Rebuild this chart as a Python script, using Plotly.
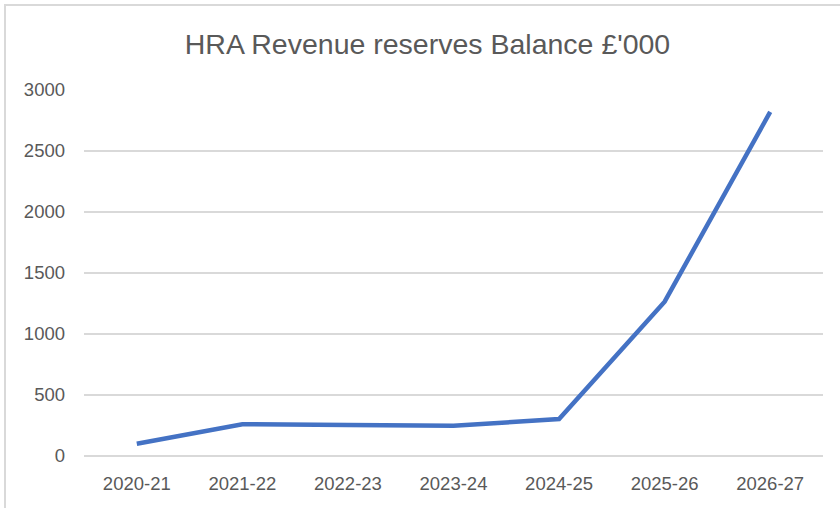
import plotly.graph_objects as go

categories = ["2020-21", "2021-22", "2022-23", "2023-24", "2024-25", "2025-26", "2026-27"]
balance = [100, 260, 255, 248, 303, 1265, 2820]
y_ticks = [0, 500, 1000, 1500, 2000, 2500, 3000]
title_text = "HRA Revenue reserves Balance £'000"

W, H = 840, 508
L, R, T, B = 84, 17, 90, 52
pw, ph = W - L - R, H - T - B

def px(x):
    return (x - L) / pw

def py(y):
    return (H - B - y) / ph

fig = go.Figure()
fig.add_trace(go.Scatter(
    x=categories, y=balance, mode="lines",
    line=dict(color="#4472C4", width=4.5),
    hoverinfo="x+y",
))

fig.update_layout(
    width=W, height=H,
    margin=dict(l=L, r=R, t=T, b=B),
    paper_bgcolor="white", plot_bgcolor="white",
    showlegend=False,
    font=dict(family="Liberation Sans, Arial, sans-serif", color="#595959"),
    title=dict(text=title_text, x=427.5 / W, xanchor="center", xref="container",
               y=1 - 44 / H, yanchor="middle", yref="container",
               font=dict(size=28.5, color="#595959")),
    xaxis=dict(type="category", range=[-0.5, 6.5], showgrid=False, zeroline=False,
               showline=False, ticks="", tickfont=dict(size=18.5, color="#595959"),
               ticklabelstandoff=14, fixedrange=True),
    yaxis=dict(range=[0, 3000], tickvals=y_ticks, showgrid=True, gridcolor="#D9D9D9",
               gridwidth=1.5, zeroline=True, zerolinecolor="#D9D9D9", zerolinewidth=1.5,
               showline=False, ticks="", tickfont=dict(size=18.5, color="#595959"),
               ticklabelstandoff=18, fixedrange=True),
    shapes=[dict(type="rect", xref="paper", yref="paper",
                 x0=px(5), x1=px(860), y0=py(530), y1=py(5),
                 line=dict(color="#D9D9D9", width=2), fillcolor="rgba(0,0,0,0)",
                 layer="below")],
)

fig.write_html("out.html", config={"displayModeBar": False},
               post_script="document.body.style.margin='0';document.body.style.overflow='hidden';")
